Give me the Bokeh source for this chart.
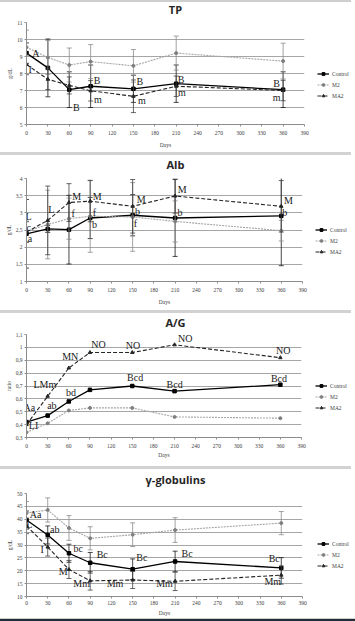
from bokeh.plotting import figure
from bokeh.layouts import column, row
from bokeh.models import (FixedTicker, CustomJSTickFormatter, Legend, LegendItem,
                          Div, Range1d, Title)
from bokeh.embed import file_html
from bokeh.resources import INLINE
from bokeh.core.properties import value

# ---------------- data ----------------
days = [0, 30, 60, 90, 150, 210, 360]
x_ticks = [0, 30, 60, 90, 120, 150, 180, 210, 240, 270, 300, 330, 360, 390]
groups = ["Control", "M2", "MA2"]

tp_control = [9.2, 8.33, 7.05, 7.25, 7.1, 7.4, 7.05]
tp_m2 = [9.55, 8.94, 8.5, 8.7, 8.45, 9.2, 8.73]
tp_ma2 = [8.53, 7.66, 7.3, 6.98, 6.66, 7.25, 7.0]
tp_control_sd = [0.6, 1.7, 1.05, 1.25, 0.8, 1.1, 1.05]
tp_m2_sd = [1.0, 1.0, 1.0, 1.0, 0.96, 1.0, 1.05]
tp_ma2_sd = [0.6, 0.6, 0.5, 0.6, 0.96, 0.6, 0.6]
tp_ticks = [5, 6, 7, 8, 9, 10, 11]
tp_notes = [("A", 13, 9.18), ("I", 5, 8.24), ("B", 70, 6.02), ("B", 99, 7.6),
            ("m", 100, 6.49), ("B", 159, 7.55), ("m", 162, 6.43), ("B", 217, 7.66),
            ("m", 218, 6.86), ("B", 351, 7.43), ("m", 351, 6.6)]

alb_control = [2.39, 2.53, 2.51, 2.85, 2.93, 2.85, 2.91]
alb_m2 = [2.46, 2.66, 2.83, 2.9, 2.88, 2.75, 2.48]
alb_ma2 = [2.44, 2.78, 3.3, 3.34, 3.19, 3.49, 3.19]
alb_control_sd = [1.0, 0.1, 1.0, 0.6, 0.6, 1.12, 1.45]
alb_m2_sd = [0.3, 1.0, 0.6, 1.05, 1.0, 0.6, 0.3]
alb_ma2_sd = [0.3, 1.0, 0.55, 0.6, 0.78, 0.5, 0.75]
alb_ticks = [1, 1.5, 2, 2.5, 3, 3.5, 4]
alb_notes = [("L", 3, 2.88), ("c", 3, 2.57), ("a", 5, 2.25), ("L", 35, 3.09),
             ("M", 71, 3.48), ("f", 66, 2.99), ("M", 100, 3.48), ("f", 96, 3.02),
             ("b", 96, 2.66), ("M", 162, 3.39), ("b", 157, 3.04), ("f", 154, 2.7),
             ("M", 220, 3.68), ("b", 217, 3.01), ("M", 370, 3.35), ("b", 365, 3.01)]

ag_control = [0.42, 0.47, 0.58, 0.67, 0.70, 0.66, 0.71]
ag_m2 = [0.34, 0.41, 0.51, 0.53, 0.53, 0.46, 0.45]
ag_ma2 = [0.40, 0.62, 0.84, 0.96, 0.96, 1.02, 0.92]
ag_ticks = [0.3, 0.4, 0.5, 0.6, 0.7, 0.8, 0.9, 1.0, 1.1]
ag_notes = [("Aa", 4, 0.535), ("LI", 10, 0.39), ("ab", 36, 0.545), ("LMm", 26, 0.713),
            ("bd", 63, 0.648), ("MN", 62, 0.927), ("NO", 102, 1.025), ("NO", 151, 1.012),
            ("Bcd", 154, 0.764), ("NO", 225, 1.069), ("Bcd", 210, 0.715),
            ("NO", 364, 0.973), ("Bcd", 358, 0.76)]

gg_control = [39.7, 33.9, 26.8, 23.1, 20.6, 23.6, 21.1]
gg_m2 = [42.4, 43.6, 36.6, 32.6, 34.0, 35.8, 38.5]
gg_ma2 = [37.4, 29.2, 20.5, 16.1, 16.4, 15.9, 18.3]
gg_control_sd = [3.5, 3.5, 3.5, 4.0, 4.0, 4.0, 4.0]
gg_m2_sd = [4.5, 4.7, 4.8, 4.5, 4.6, 4.8, 4.5]
gg_ma2_sd = [3.0, 3.5, 3.5, 3.6, 3.3, 3.6, 3.5]
gg_ticks = [10, 15, 20, 25, 30, 35, 40, 45, 50]
gg_notes = [("Aa", 13, 41.7), ("L", 4, 37.8), ("ab", 40, 35.9), ("I", 22, 28.1),
            ("bc", 73, 28.8), ("M", 52, 19.8), ("Bc", 107, 26.2), ("Mm", 78, 14.9),
            ("Bc", 163, 25.3), ("Mm", 125, 14.9), ("Bc", 227, 26.6), ("Mm", 195, 14.9),
            ("Bc", 350, 24.7), ("Mm", 348, 16.0)]

# ---------------- styles ----------------
STYLE = {
    "Control": dict(color="#000000", dash="solid", width=1.3, marker="square", msize=3.5,
                    mcolor="#000000", ecolor="#1a1a1a"),
    "M2": dict(color="#a6a6a6", dash="2 1", width=1.1, marker="circle", msize=3,
               mcolor="#7f7f7f", ecolor="#8c8c8c"),
    "MA2": dict(color="#262626", dash="4 2", width=1.1, marker="triangle", msize=3.5,
                mcolor="#262626", ecolor="#404040"),
}
SERIF = "Liberation Serif"
GRAY = "#8c8c8c"


def make_panel(ylabel, yr, yticks, series, sds, notes, g):
    p = figure(frame_width=g["fw"], frame_height=g["fh"],
               min_border_left=g["left"], min_border_right=g["right"],
               min_border_top=g["top"], min_border_bottom=g["bottom"],
               x_range=Range1d(0, 390), y_range=Range1d(*yr),
               output_backend="svg", toolbar_location=None, title=None,
               background_fill_color="white", border_fill_color="white",
               outline_line_color=None)

    for ax in (p.xaxis, p.yaxis):
        ax.axis_line_color = GRAY
        ax.major_tick_line_color = GRAY
        ax.minor_tick_line_color = None
        ax.major_tick_out = 2
        ax.major_tick_in = 0
        ax.major_label_text_font = SERIF
        ax.major_label_text_font_size = "5.5px"
        ax.major_label_text_color = "#404040"
        ax.major_label_standoff = 2
        ax.axis_label_text_font = SERIF
        ax.axis_label_text_font_size = "5.5px"
        ax.axis_label_text_font_style = "normal"
        ax.axis_label_text_color = "#404040"
    p.xaxis.ticker = FixedTicker(ticks=x_ticks)
    p.xaxis.axis_label = "Days"
    p.xaxis.major_label_standoff = g["xls"]
    p.xaxis.axis_label_standoff = g["xals"]
    p.yaxis.ticker = FixedTicker(ticks=yticks)
    p.yaxis.formatter = CustomJSTickFormatter(
        code="return String(Math.round(tick*10)/10).replace('.', ',');")
    p.xgrid.visible = False
    p.ygrid.ticker = FixedTicker(ticks=yticks)
    p.ygrid.grid_line_color = "#a6a6a6"
    p.ygrid.grid_line_width = 1

    # y-axis title, placed in the left side panel (outside the tick labels)
    p.add_layout(Title(text=ylabel, align="center", text_font=SERIF,
                       text_font_size="5.5px", text_font_style="normal",
                       text_color="#404040", standoff=2), "left")

    items = []
    for name in groups:
        st = STYLE[name]
        vals = series[name]
        if sds is not None:
            sd = sds[name]
            hi = [v + s for v, s in zip(vals, sd)]
            lo = [v - s for v, s in zip(vals, sd)]
            p.segment(x0=days, y0=lo, x1=days, y1=hi, line_color=st["ecolor"], line_width=0.8)
            p.scatter(days, hi, marker="dash", size=5, line_color=st["ecolor"], line_width=0.8)
            p.scatter(days, lo, marker="dash", size=5, line_color=st["ecolor"], line_width=0.8)
        ln = p.line(days, vals, line_color=st["color"], line_dash=st["dash"],
                    line_width=st["width"])
        mk = p.scatter(days, vals, marker=st["marker"], size=st["msize"],
                       fill_color=st["mcolor"], line_color=st["mcolor"])
        items.append(LegendItem(label=name, renderers=[ln, mk]))

    p.text(x=[n[1] for n in notes], y=[n[2] for n in notes], text=[n[0] for n in notes],
           text_font=value(SERIF), text_font_size="10px", text_align="center",
           text_baseline="middle", text_color="#1a1a1a")

    leg = Legend(items=items, location=(g["lx"], g["ly"]), padding=0, margin=0,
                 spacing=4, glyph_width=12, glyph_height=7, label_height=7,
                 label_standoff=3, label_text_font=SERIF, label_text_font_size="5.5px",
                 label_text_color="#404040", background_fill_alpha=0,
                 border_line_color=None)
    p.add_layout(leg, "right")
    return p


def title_div(text, h):
    return Div(text=text, width=351, height=h, margin=0,
               styles={"background-color": "white", "font-family": "Open Sans",
                       "font-size": "11px", "font-weight": "bold", "color": "#262626",
                       "text-align": "center", "line-height": "%dpx" % h,
                       "overflow": "hidden"})


g1 = dict(fw=278, fh=102, left=23, right=50, top=4, bottom=28, th=16,
          xls=4, xals=4, lx=13, ly=25)
g2 = dict(fw=276, fh=103, left=26, right=49, top=3, bottom=29, th=20,
          xls=4, xals=4, lx=13, ly=26)
g3 = dict(fw=275, fh=103, left=26, right=50, top=2, bottom=29, th=19,
          xls=4, xals=1, lx=14, ly=26)
g4 = dict(fw=276, fh=103, left=24, right=51, top=2, bottom=21, th=22,
          xls=2, xals=2, lx=15, ly=27)

p1 = make_panel("g/dL", (5, 11), tp_ticks,
                {"Control": tp_control, "M2": tp_m2, "MA2": tp_ma2},
                {"Control": tp_control_sd, "M2": tp_m2_sd, "MA2": tp_ma2_sd}, tp_notes, g1)
p2 = make_panel("g/dL", (1, 4), alb_ticks,
                {"Control": alb_control, "M2": alb_m2, "MA2": alb_ma2},
                {"Control": alb_control_sd, "M2": alb_m2_sd, "MA2": alb_ma2_sd}, alb_notes, g2)
p3 = make_panel("ratio", (0.3, 1.1), ag_ticks,
                {"Control": ag_control, "M2": ag_m2, "MA2": ag_ma2},
                None, ag_notes, g3)
p4 = make_panel("g/dL", (10, 50), gg_ticks,
                {"Control": gg_control, "M2": gg_m2, "MA2": gg_ma2},
                {"Control": gg_control_sd, "M2": gg_m2_sd, "MA2": gg_ma2_sd}, gg_notes, g4)


def bar(w, h, color, text=""):
    return Div(text=text, width=w, height=h, margin=0,
               styles={"background-color": color, "overflow": "hidden"})


left_col = column(bar(351, 2, "#cfcfcf"), title_div("TP", g1["th"]), p1,
                  bar(351, 3, "#d2d2d2"), title_div("Alb", g2["th"]), p2,
                  bar(351, 3, "#d2d2d2"), title_div("A/G", g3["th"]), p3,
                  bar(351, 3, "#d2d2d2"), title_div("γ-globulins", g4["th"]), p4,
                  spacing=0)
top_row = row(left_col, bar(4, 617, "#eef0f6"), spacing=0)
bottom = column(bar(355, 1, "#cfcfcf"),
                bar(355, 3, "#1f2b36",
                    '<div style="margin-left:40px;width:40px;height:3px;background:#7b7a3c"></div>'),
                spacing=0)
layout = column(top_row, bottom, spacing=0)

open("out.html", "w").write(file_html(layout, INLINE))
